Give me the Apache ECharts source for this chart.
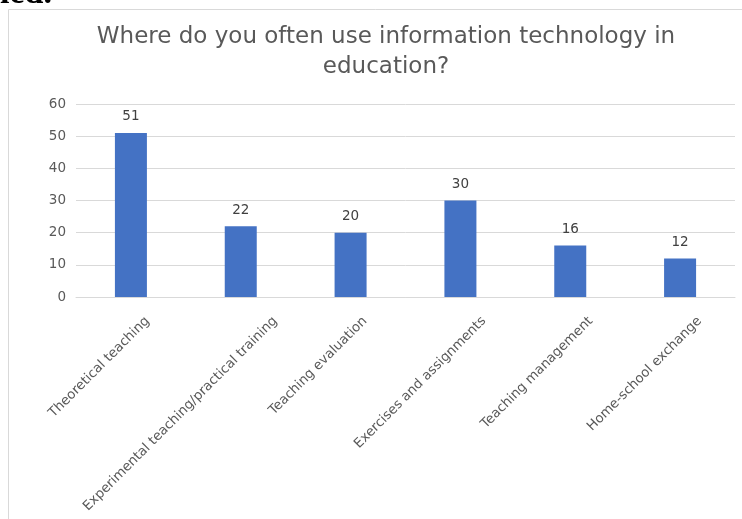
<!DOCTYPE html>
<html>
<head>
<meta charset="utf-8">
<script src="https://cdn.jsdelivr.net/npm/echarts@6/dist/echarts.min.js"></script>
<style>
  html, body { margin: 0; padding: 0; background: #fff; }
  #chart { width: 742px; height: 519px; }
</style>
</head>
<body>
<div id="chart"></div>
<script>
// data
var categories = [
  "Theoretical teaching",
  "Experimental teaching/practical training",
  "Teaching evaluation",
  "Exercises and assignments",
  "Teaching management",
  "Home-school exchange"
];
var values = [51, 22, 20, 30, 16, 12];
var yTicks = [0, 10, 20, 30, 40, 50, 60];

var myChart = echarts.init(document.getElementById("chart"));
var font = "DejaVu Sans, Verdana, sans-serif";

// excel puts the rotated labels a bit right of the bar centre,
// each by its own amount -> one label axis per category, in its own shifted grid
var labelOffset = [16.5, 34.5, 14.5, 23.5, 20.5, 19.5];
var plot = { left: 76, top: 104, width: 659, bottom: 222 };

var grids = [
  { left: plot.left, top: plot.top, width: plot.width, bottom: plot.bottom, outerBoundsMode: "none" }
];
var xAxes = [
  {
    type: "category",
    gridIndex: 0,
    data: categories,
    axisLine: { lineStyle: { color: "#d9d9d9" } },
    axisTick: { show: false },
    axisLabel: { show: false }
  }
];
var yAxes = [
  {
    type: "value",
    gridIndex: 0,
    min: yTicks[0],
    max: yTicks[yTicks.length - 1],
    interval: 10,
    axisLine: { show: false },
    axisTick: { show: false },
    splitLine: { lineStyle: { color: "#d9d9d9" } },
    axisLabel: {
      margin: 10,
      color: "#595959",
      fontFamily: font,
      fontSize: 13.5
    }
  }
];

labelOffset.forEach(function (off, i) {
  grids.push({
    left: plot.left + off,
    top: plot.top,
    width: plot.width,
    bottom: plot.bottom,
    outerBoundsMode: "none"
  });
  xAxes.push({
    type: "category",
    gridIndex: i + 1,
    data: categories,
    axisLine: { show: false },
    axisTick: { show: false },
    splitLine: { show: false },
    axisLabel: {
      rotate: 45,
      interval: function (idx) { return idx === i; },
      margin: 22,
      color: "#595959",
      fontFamily: font,
      fontSize: 13.3
    }
  });
  yAxes.push({ type: "value", gridIndex: i + 1, min: 0, max: 60, show: false });
});

var option = {
  backgroundColor: "#fff",
  animation: false,
  title: {
    text: "Where do you often use information technology in\neducation?",
    left: 381,
    top: 17,
    textAlign: "center",
    textStyle: {
      color: "#595959",
      fontFamily: font,
      fontSize: 23,
      fontWeight: "normal",
      lineHeight: 30
    }
  },
  graphic: [
    {
      // frame of the chart, cut off at right and bottom
      type: "rect",
      shape: { x: 8.5, y: 9.5, width: 900, height: 700 },
      style: { fill: "none", stroke: "#d9d9d9", lineWidth: 1 },
      silent: true
    },
    {
      // tail of the text line above the chart in the page
      type: "text",
      left: 0,
      top: -23,
      style: {
        text: "ied.",
        fill: "#000",
        font: "bold 34px Liberation Serif, serif"
      }
    }
  ],
  grid: grids,
  xAxis: xAxes,
  yAxis: yAxes,
  series: [
    {
      type: "bar",
      xAxisIndex: 0,
      yAxisIndex: 0,
      data: values,
      barWidth: 32,
      itemStyle: { color: "#4472c4" },
      label: {
        show: true,
        position: "top",
        distance: 9,
        color: "#404040",
        fontFamily: font,
        fontSize: 13.5
      }
    }
  ]
};
myChart.setOption(option);
</script>
</body>
</html>
